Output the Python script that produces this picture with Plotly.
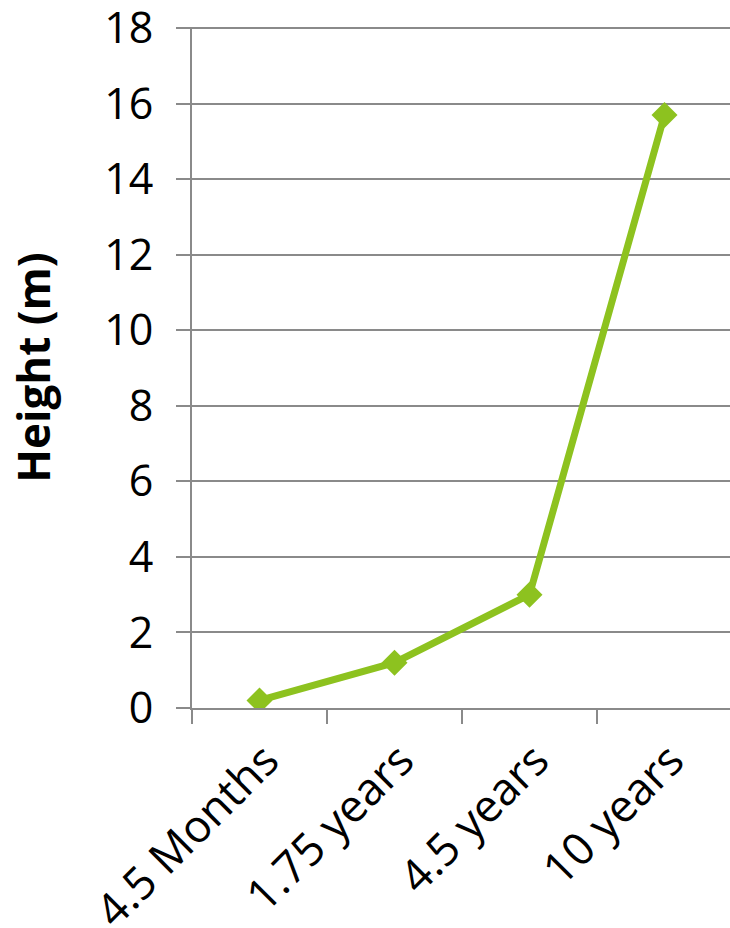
import plotly.graph_objects as go

categories = ["4.5 Months", "1.75 years", "4.5 years", "10 years"]
heights = [0.2, 1.2, 3.0, 15.7]
y_ticks = [0, 2, 4, 6, 8, 10, 12, 14, 16, 18]

green = "#8DC21F"
grid = "#8A8A8A"
font_family = "Open Sans"

fig = go.Figure()
fig.add_trace(go.Scatter(
    x=categories, y=heights, mode="lines+markers",
    line=dict(color=green, width=7),
    marker=dict(symbol="diamond", size=20, color=green),
    showlegend=False,
))

fig.update_layout(
    width=730, height=928,
    margin=dict(l=192, r=0, t=27, b=220),
    paper_bgcolor="white", plot_bgcolor="white",
    font=dict(family=font_family, color="black", size=42),
    xaxis=dict(
        type="category", range=[-0.5, 3.485], automargin=False,
        tickson="boundaries", ticks="outside", ticklen=14, tickwidth=2, tickcolor=grid,
        showline=True, linecolor=grid, linewidth=2,
        showgrid=False, tickangle=-45,
        ticklabelstandoff=6, ticklabelshift=6,
        tickfont=dict(size=45, family=font_family),
    ),
    yaxis=dict(
        range=[0, 18.03], tickvals=y_ticks, automargin=False,
        ticks="outside", ticklen=14, tickwidth=2, tickcolor=grid,
        showline=True, linecolor=grid, linewidth=2,
        showgrid=True, gridcolor=grid, gridwidth=2,
        zeroline=False,
        ticklabelstandoff=14, ticklabeloverflow="allow",
        tickfont=dict(size=43, family=font_family),
        title=dict(text="<b>Height (m)</b>", font=dict(size=44, family=font_family), standoff=40),
    ),
)

fig.write_html("out.html")
